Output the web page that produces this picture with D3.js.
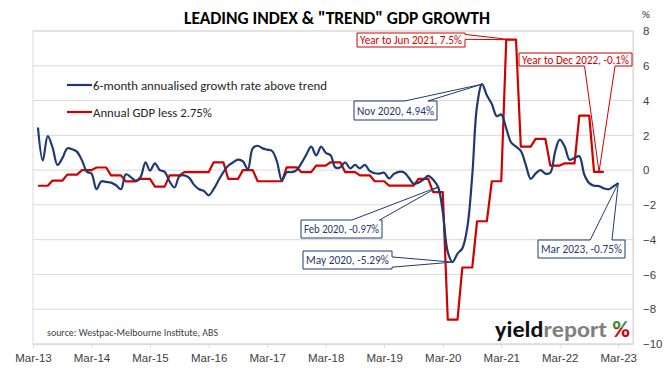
<!DOCTYPE html>
<html>
<head>
<meta charset="utf-8">
<script src="https://cdn.jsdelivr.net/npm/d3@7"></script>
<style>
  body { margin: 0; background: #fff; }
  svg { display: block; font-family: Carlito, Calibri, "Liberation Sans Narrow", "Open Sans", sans-serif; }
</style>
</head>
<body>
<div id="vis"></div>
<script>
// 6-month annualised growth rate above trend, monthly from Apr 2013 to Mar 2023
const leadingStart = "2013-04";
const leadingIndex = [
  2.45, 0.55, 1.95, 1.3, 0.3, 0.7, 1.25, 1.2, 1.05, 0.55, -0.1, -0.2,
  -1.1, -0.65, -0.68, -0.72, -0.87, -1.1, -0.24, -0.4, -0.6, -0.4, 0.45, -0.03,
  0.39, 0.0, -0.1, -0.65, -1.0, -0.35, -0.3, -0.45, -0.85, -1.1, -1.2, -1.45,
  -1.1, -0.6, -0.12, 0.25, 0.45, 0.6, 0.5, 0.05, 1.25, 1.4, 1.25, 1.18,
  1.1, 0.5, -0.6, -0.12, -0.12, 0.0, 0.4, 0.9, 1.35, 0.85, 1.35, 1.0,
  0.85, 0.15, 0.16, 0.45, 0.1, 0.3, 0.1, 0.3, -0.05, -0.18, -0.2, -0.15,
  -0.48, -0.22, -0.1, -0.12, -0.42, -0.79, -0.72, -0.55, -0.33, -0.55, -0.97, -2.4,
  -4.7, -5.29, -4.8, -4.5, -3.3, -0.3, 3.7, 4.94, 4.3, 3.8, 3.1, 3.2,
  2.4, 1.6, 1.35, 1.1, 0.3, -0.5, -0.2, 0.0, -0.2, -0.15, 1.1, 1.75,
  1.35, 0.6, 0.7, 0.8, -0.25, -0.75, -0.9, -0.92, -1.05, -1.1, -0.92, -0.75
];

// annual GDP growth less 2.75%, quarterly from Jun 2013 to Dec 2022
const gdpStart = "2013-06";
const gdpLess = [
  -0.9, -0.6, -0.26,
  0.0, 0.15, -0.3, -0.65,
  -0.5, -0.95, -0.3, -0.12,
  -0.12, 0.45, -0.5, 0.0,
  -0.64, -0.64, 0.16, -0.12,
  0.26, 0.45, -0.12, -0.3,
  -0.64, -0.89, -0.89, -0.5,
  -1.27, -8.6, -5.6, -2.94,
  -0.64, 7.5, 1.35, 1.8,
  0.26, 0.39, 3.13, -0.1
];

const seriesNames = ["6-month annualised growth rate above trend", "Annual GDP less 2.75%"];
const xTickLabels = ["Mar-13", "Mar-14", "Mar-15", "Mar-16", "Mar-17", "Mar-18", "Mar-19", "Mar-20", "Mar-21", "Mar-22", "Mar-23"];
const yTicks = [-10, -8, -6, -4, -2, 0, 2, 4, 6, 8];

// labelled points: series, month, text
const calloutSeries = ["gdp", "gdp", "lead", "lead", "lead", "lead"];
const calloutMonths = ["2021-05", "2022-11", "2020-11", "2020-02", "2020-05", "2023-03"];
const calloutTexts = ["Year to Jun 2021, 7.5%", "Year to Dec 2022, -0.1%", "Nov 2020, 4.94%", "Feb 2020, -0.97%", "May 2020, -5.29%", "Mar 2023, -0.75%"];

// box layout for each callout: x, y, w, h, side of the wedge, wedge base as fractions of that side
const calloutBoxes = [
  { x: 357, y: 33, w: 108, h: 14, side: "right", a: 0.1, b: 0.45 },
  { x: 519, y: 53, w: 113, h: 13, side: "bottom", a: 0.58, b: 0.85 },
  { x: 354, y: 101, w: 83, h: 19, side: "top", a: 0.61, b: 0.89 },
  { x: 301, y: 220, w: 81, h: 18, side: "top", a: 0.63, b: 0.97 },
  { x: 303, y: 251, w: 89, h: 18, side: "right", a: 0.33, b: 0.9 },
  { x: 538, y: 240, w: 87, h: 18, side: "top", a: 0.6, b: 0.85 }
];

const width = 671;
const height = 368;
const margin = { top: 31, right: 38, bottom: 24, left: 33 };

const blue = "#1f3a70";
const red = "#d00000";
const grid = "#d9d9d9";

const parseMonth = d3.timeParse("%Y-%m");

// monthly points for the leading index
const leadData = leadingIndex.map((v, i) => ({ date: d3.timeMonth.offset(parseMonth(leadingStart), i), value: v }));

// each quarter is held over its three months, as in the original sheet
const gdpData = [];
gdpLess.forEach((v, i) => {
  const qEnd = d3.timeMonth.offset(parseMonth(gdpStart), i * 3);
  for (let k = 2; k >= 0; k--) {
    gdpData.push({ date: d3.timeMonth.offset(qEnd, -k), value: v });
  }
});

const x = d3.scaleTime()
  .domain([parseMonth("2013-03"), parseMonth("2023-06")])
  .range([margin.left, width - margin.right]);

const y = d3.scaleLinear()
  .domain([-10, 8])
  .range([height - margin.bottom, margin.top]);

const svg = d3.select("#vis")
  .append("svg")
  .attr("width", width)
  .attr("height", height);

// shrink a text to a given width if the fallback font runs wide (or force it with exact)
function fit(sel, w, exact) {
  sel.each(function () {
    const len = this.getComputedTextLength();
    if (len > w || exact) d3.select(this).attr("textLength", w).attr("lengthAdjust", "spacingAndGlyphs");
  });
}

// title
svg.append("text")
  .attr("x", 337)
  .attr("y", 24)
  .attr("text-anchor", "middle")
  .style("font-size", "17px")
  .style("font-weight", "bold")
  .style("fill", "#000")
  .text('LEADING INDEX & "TREND" GDP GROWTH')
  .call(fit, 306, true);

// gridlines
svg.append("g")
  .selectAll("line")
  .data(yTicks)
  .enter()
  .append("line")
  .attr("x1", margin.left)
  .attr("x2", width - margin.right)
  .attr("y1", d => y(d))
  .attr("y2", d => y(d))
  .attr("stroke", grid)
  .attr("stroke-width", 1);

// plot area border
svg.append("rect")
  .attr("x", margin.left)
  .attr("y", margin.top)
  .attr("width", width - margin.left - margin.right)
  .attr("height", height - margin.top - margin.bottom)
  .attr("fill", "none")
  .attr("stroke", grid);

// x axis
const xTickDates = xTickLabels.map(d => d3.timeParse("%b-%y")(d));
const xAxis = svg.append("g")
  .attr("transform", `translate(0,${height - margin.bottom})`)
  .call(d3.axisBottom(x)
    .tickValues(xTickDates)
    .tickFormat((d, i) => xTickLabels[i])
    .tickSize(4)
    .tickSizeOuter(0)
    .tickPadding(6));
xAxis.select(".domain").attr("stroke", grid);
xAxis.selectAll(".tick line").attr("stroke", grid);
xAxis.selectAll("text").style("font-size", "11.5px").style("fill", "#404040").style("font-family", null);

// y axis on the right
const yAxis = svg.append("g")
  .attr("transform", `translate(${width - margin.right},0)`)
  .call(d3.axisRight(y).tickValues(yTicks).tickSize(0).tickPadding(10));
yAxis.select(".domain").attr("stroke", grid);
yAxis.selectAll("text").style("font-size", "11.5px").style("fill", "#404040").style("font-family", null);

svg.append("text")
  .attr("x", 642)
  .attr("y", 18)
  .style("font-size", "11px")
  .style("fill", "#404040")
  .text("%");

// lines
const gdpLine = d3.line()
  .x(d => x(d.date))
  .y(d => y(d.value));

const leadLine = d3.line()
  .x(d => x(d.date))
  .y(d => y(d.value))
  .curve(d3.curveCatmullRom.alpha(0.5));

svg.append("path")
  .datum(gdpData)
  .attr("fill", "none")
  .attr("stroke", red)
  .attr("stroke-width", 2.2)
  .attr("stroke-linejoin", "round")
  .attr("d", gdpLine);

svg.append("path")
  .datum(leadData)
  .attr("fill", "none")
  .attr("stroke", blue)
  .attr("stroke-width", 2.2)
  .attr("stroke-linejoin", "round")
  .attr("d", leadLine);

// legend
const legend = svg.append("g");
[blue, red].forEach((c, i) => {
  const ly = 85 + i * 27;
  legend.append("line")
    .attr("x1", 67).attr("x2", 92)
    .attr("y1", ly).attr("y2", ly)
    .attr("stroke", c)
    .attr("stroke-width", 2.2);
  legend.append("text")
    .attr("x", 93)
    .attr("y", ly)
    .attr("dy", "0.35em")
    .style("font-size", "13px")
    .style("fill", "#262626")
    .text(seriesNames[i])
    .call(fit, i === 0 ? 234 : 119);
});

// callouts with a wedge pointing at the data point
function calloutPath(b, tx, ty) {
  const x0 = b.x, y0 = b.y, x1 = b.x + b.w, y1 = b.y + b.h;
  const pts = [[x0, y0]];
  if (b.side === "top") pts.push([x0 + b.w * b.a, y0], [tx, ty], [x0 + b.w * b.b, y0]);
  pts.push([x1, y0]);
  if (b.side === "right") pts.push([x1, y0 + b.h * b.a], [tx, ty], [x1, y0 + b.h * b.b]);
  pts.push([x1, y1]);
  if (b.side === "bottom") pts.push([x0 + b.w * b.b, y1], [tx, ty], [x0 + b.w * b.a, y1]);
  pts.push([x0, y1]);
  return "M" + pts.map(p => p.join(",")).join("L") + "Z";
}

calloutTexts.forEach((t, i) => {
  const b = calloutBoxes[i];
  const when = parseMonth(calloutMonths[i]);
  const src = calloutSeries[i] === "gdp" ? gdpData : leadData;
  const pt = src.find(d => +d.date === +when);
  const col = calloutSeries[i] === "gdp" ? red : blue;
  const g = svg.append("g");
  g.append("path")
    .attr("d", calloutPath(b, x(pt.date), y(pt.value)))
    .attr("fill", "#fff")
    .attr("stroke", col)
    .attr("stroke-width", 1);
  g.append("text")
    .attr("x", b.x + b.w / 2)
    .attr("y", b.y + b.h / 2)
    .attr("dy", "0.35em")
    .attr("text-anchor", "middle")
    .style("font-size", "11.5px")
    .style("fill", col)
    .text(t)
    .call(fit, b.w - 6);
});

// source
svg.append("text")
  .attr("x", 47)
  .attr("y", 336)
  .style("font-size", "10px")
  .style("fill", "#404040")
  .text("source: Westpac-Melbourne Institute, ABS")
  .call(fit, 171);

// logo
const defs = svg.append("defs");
const grad = defs.append("linearGradient")
  .attr("id", "pct")
  .attr("x1", 0).attr("x2", 0).attr("y1", 0).attr("y2", 1);
grad.append("stop").attr("offset", "48%").attr("stop-color", "#3c8d3c");
grad.append("stop").attr("offset", "48%").attr("stop-color", "#d00000");

const logo = svg.append("text")
  .attr("x", 495)
  .attr("y", 337)
  .style("font-size", "23px")
  .style("font-weight", "900");
logo.append("tspan").style("fill", "#111").text("yield");
logo.append("tspan").style("fill", "#7f7f7f").text("report ");
logo.append("tspan").style("fill", "url(#pct)").text("%");
logo.call(fit, 135, true);
</script>
</body>
</html>
